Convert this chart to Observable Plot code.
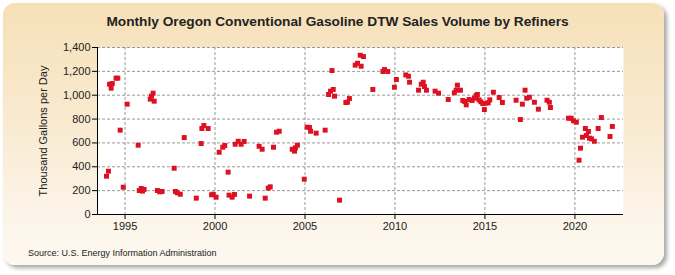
<!DOCTYPE html>
<html>
<head>
<meta charset="utf-8">
<script src="https://cdn.jsdelivr.net/npm/d3@7"></script>
<script src="https://cdn.jsdelivr.net/npm/@observablehq/plot@0.6"></script>
<style>
  body { margin: 0; background: #ffffff; }
  #wrap { position: relative; width: 675px; height: 275px; overflow: hidden; font-family: "Liberation Sans", Arial, sans-serif; }
  #panel { position: absolute; left: 3px; top: 3px; width: 661px; height: 262px; border-radius: 12px;
    background: linear-gradient(to bottom, #f6e0b8 0%, #f9ead0 45%, #fcf4e8 80%, #fdf8f0 100%);
    box-shadow: 3px 3px 4px rgba(0,0,0,0.35); }
  #title { position: absolute; left: 0; width: 675px; top: 14px; text-align: center; font-weight: bold; font-size: 13.7px; color: #222; }
  #source { position: absolute; left: 28px; top: 248px; font-size: 9px; color: #222; }
  #chart { position: absolute; left: 0; top: 0; }
</style>
</head>
<body>
<div id="wrap">
  <div id="panel"></div>
  <div id="chart"></div>
  <div id="title">Monthly Oregon Conventional Gasoline DTW Sales Volume by Refiners</div>
  <div id="source">Source: U.S. Energy Information Administration</div>
</div>
<script>
const dates = [
  1993.97, 1994.08, 1994.14, 1994.23, 1994.29, 1994.5, 1994.6, 1994.73, 1994.9, 1995.12,
  1995.73, 1995.79, 1995.9, 1995.97, 1996.06, 1996.4, 1996.47, 1996.56, 1996.62, 1996.8,
  1996.93, 1997.06, 1997.73, 1997.8, 1997.9, 1998.07, 1998.29, 1998.96, 1999.23, 1999.27,
  1999.38, 1999.62, 1999.81, 1999.9, 2000.06, 2000.23, 2000.43, 2000.54, 2000.73, 2000.78,
  2000.95, 2001.08, 2001.12, 2001.29, 2001.45, 2001.62, 2001.92, 2002.45, 2002.62, 2002.79,
  2002.96, 2003.07, 2003.25, 2003.42, 2003.57, 2004.29, 2004.42, 2004.47, 2004.58, 2004.96,
  2005.12, 2005.25, 2005.31, 2005.62, 2006.12, 2006.31, 2006.42, 2006.5, 2006.57, 2006.64,
  2006.92, 2007.27, 2007.36, 2007.47, 2007.79, 2007.92, 2008.07, 2008.12, 2008.25, 2008.77,
  2009.33, 2009.42, 2009.6, 2009.97, 2010.08, 2010.6, 2010.75, 2010.81, 2011.31, 2011.46,
  2011.57, 2011.64, 2011.75, 2012.23, 2012.42, 2012.96, 2013.3, 2013.4, 2013.47, 2013.64,
  2013.77, 2013.88, 2013.96, 2014.12, 2014.29, 2014.42, 2014.51, 2014.58, 2014.67, 2014.77,
  2014.88, 2014.97, 2015.05, 2015.18, 2015.27, 2015.47, 2015.79, 2015.97, 2016.73, 2016.97,
  2017.08, 2017.23, 2017.32, 2017.47, 2017.75, 2017.97, 2018.45, 2018.58, 2018.64, 2019.64,
  2019.79, 2019.92, 2020.08, 2020.23, 2020.31, 2020.42, 2020.58, 2020.64, 2020.75, 2020.81,
  2020.92, 2021.08, 2021.29, 2021.47, 2021.95, 2022.08
];
const values = [
  321, 363, 1092, 1059, 1098, 1143, 1143, 707, 229, 925,
  581, 201, 218, 196, 210, 967, 992, 1017, 950, 201,
  190, 193, 388, 193, 182, 170, 645, 137, 595, 721,
  746, 721, 165, 170, 145, 522, 564, 578, 355, 162,
  145, 168, 589, 614, 589, 612, 154, 572, 547, 137,
  221, 232, 564, 690, 698, 547, 531, 559, 581, 296,
  732, 729, 698, 682, 707, 1006, 1034, 1207, 1048, 992,
  120, 939, 941, 972, 1252, 1268, 1335, 1243, 1324, 1048,
  1199, 1215, 1199, 1067, 1132, 1170, 1159, 1109, 1042, 1092,
  1109, 1073, 1042, 1034, 1017, 964, 1020, 1042, 1084, 1042,
  956, 947, 919, 964, 956, 975, 997, 1006, 961, 945,
  930, 880, 933, 936, 961, 1025, 981, 939, 958, 796,
  925, 1042, 975, 983, 941, 883, 958, 941, 897, 807,
  807, 785, 774, 455, 556, 648, 721, 662, 696, 640,
  634, 614, 721, 813, 654, 738
];
const xTicks = [1995, 2000, 2005, 2010, 2015, 2020];
const yTicks = [0, 200, 400, 600, 800, 1000, 1200, 1400];
const yLabel = "Thousand Gallons per Day";

const data = dates.map((d, i) => ({date: d, value: values[i]}));
const xDomain = [1993.47, 2022.7];

const chart = Plot.plot({
  width: 675,
  height: 275,
  marginLeft: 97,
  marginRight: 52,
  marginTop: 47,
  marginBottom: 61,
  style: {background: "transparent", fontFamily: "'Liberation Sans', Arial, sans-serif", fontSize: "11px", color: "#222"},
  x: {domain: xDomain, label: null},
  y: {domain: [0, 1400], label: null},
  marks: [
    Plot.frame({fill: "white", stroke: null}),
    Plot.gridX(xTicks, {stroke: "#999", strokeOpacity: 1, strokeDasharray: "3,2"}),
    Plot.gridY(yTicks.filter(d => d > 0), {stroke: "#999", strokeOpacity: 1, strokeDasharray: "3,2"}),
    Plot.ruleY([0], {stroke: "#000", strokeWidth: 1}),
    Plot.ruleX([xDomain[0]], {stroke: "#000", strokeWidth: 1}),
    Plot.axisX(xTicks, {tickFormat: d => String(d), tickSize: 5, stroke: "#000", fontSize: 11, tickPadding: 3}),
    Plot.axisY(yTicks, {tickFormat: d3.format(","), tickSize: 5, stroke: "#000", fontSize: 11, tickPadding: 2}),
    Plot.text([yLabel], {frameAnchor: "left", dx: -54, rotate: -90, textAnchor: "middle", fontSize: 11, fill: "#222"}),
    Plot.dot(data, {x: "date", y: "value", symbol: "square", r: 2.8, fill: "#dd1122", stroke: null})
  ]
});
document.getElementById("chart").appendChild(chart);
</script>
</body>
</html>
